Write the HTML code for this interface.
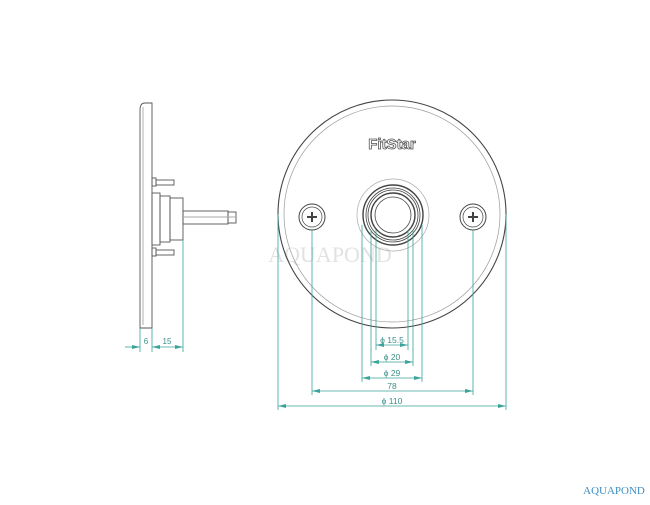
<!DOCTYPE html>
<html><head><meta charset="utf-8"><style>html,body{margin:0;padding:0;background:#fff}svg{display:block}</style></head>
<body>
<svg width="650" height="505" viewBox="0 0 650 505" xmlns="http://www.w3.org/2000/svg" font-family="Liberation Sans, sans-serif">
<defs>
<marker id="a" markerWidth="8" markerHeight="6" refX="8" refY="3" orient="auto-start-reverse" markerUnits="userSpaceOnUse"><path d="M0,1 L8,3 L0,5 z" fill="#3aa39a"/></marker>
</defs>
<rect width="650" height="505" fill="#fff"/>
<text x="330" y="262" font-family="Liberation Serif, serif" font-size="22" fill="#e2e2e2" text-anchor="middle">AQUAPOND</text>
<!-- side view -->
<g fill="none" stroke="#555" stroke-width="0.9">
<path d="M145,103 L152,103 L152,328 L140,328 L140,110 Q140,103 145,103 z"/>
<line x1="143" y1="107" x2="143" y2="325" stroke="#aaa"/>
<rect x="152" y="178" width="4" height="8"/><rect x="156" y="180" width="18" height="5"/>
<rect x="152" y="248" width="4" height="8"/><rect x="156" y="250" width="18" height="5"/>
<rect x="152" y="193" width="8" height="52"/>
<rect x="160" y="196" width="10" height="46"/>
<rect x="170" y="198" width="13" height="42"/>
<rect x="183" y="211" width="45" height="13"/>
<rect x="228" y="212" width="8" height="11"/>
<line x1="183" y1="217" x2="236" y2="217" stroke="#aaa"/>
</g>
<g stroke="#3aa39a" stroke-width="0.8" fill="none">
<line x1="140" y1="328" x2="140" y2="352"/><line x1="152" y1="328" x2="152" y2="352"/><line x1="183" y1="240" x2="183" y2="352"/>
<line x1="125" y1="347" x2="140" y2="347" marker-end="url(#a)"/>
<line x1="152" y1="347" x2="183" y2="347" marker-start="url(#a)" marker-end="url(#a)"/>
</g>
<text x="146" y="344" font-size="8" fill="#3a8f88" text-anchor="middle">6</text>
<text x="167" y="344" font-size="8" fill="#3a8f88" text-anchor="middle">15</text>
<!-- front view -->
<g fill="none" stroke="#444">
<circle cx="392" cy="214" r="114" stroke-width="1.1"/>
<circle cx="392" cy="214" r="108" stroke="#999" stroke-width="0.7"/>
<circle cx="393" cy="215" r="36" stroke="#aaa" stroke-width="0.7"/>
<circle cx="393" cy="215" r="30" stroke-width="1.4"/>
<circle cx="393" cy="215" r="27" stroke-width="0.8"/>
<circle cx="393" cy="215" r="25" stroke-width="0.8"/>
<circle cx="393" cy="215" r="22" stroke-width="1.4"/>
<circle cx="393" cy="215" r="18" stroke-width="0.8"/>
<circle cx="312" cy="217" r="13" stroke-width="1"/><circle cx="312" cy="217" r="10" stroke-width="0.7"/>
<circle cx="473" cy="217" r="13" stroke-width="1"/><circle cx="473" cy="217" r="10" stroke-width="0.7"/>
<path d="M307,217 h10 M312,212 v10 M468,217 h10 M473,212 v10" stroke-width="2"/>
</g>
<text x="392" y="149" font-size="15" font-weight="bold" fill="#fff" stroke="#555" stroke-width="0.8" text-anchor="middle" font-family="Liberation Sans Narrow, Liberation Sans, sans-serif">FitStar</text>
<g stroke="#3aa39a" stroke-width="0.8" fill="none">
<line x1="376" y1="230" x2="376" y2="350"/><line x1="408" y1="230" x2="408" y2="350"/>
<line x1="371" y1="230" x2="371" y2="366"/><line x1="413" y1="230" x2="413" y2="366"/>
<line x1="362" y1="225" x2="362" y2="382"/><line x1="422" y1="225" x2="422" y2="382"/>
<line x1="312" y1="230" x2="312" y2="395"/><line x1="473" y1="230" x2="473" y2="395"/>
<line x1="278" y1="214" x2="278" y2="410"/><line x1="506" y1="214" x2="506" y2="410"/>
<line x1="376" y1="345" x2="408" y2="345" marker-start="url(#a)" marker-end="url(#a)"/>
<line x1="371" y1="362" x2="413" y2="362" marker-start="url(#a)" marker-end="url(#a)"/>
<line x1="362" y1="378" x2="422" y2="378" marker-start="url(#a)" marker-end="url(#a)"/>
<line x1="312" y1="391" x2="473" y2="391" marker-start="url(#a)" marker-end="url(#a)"/>
<line x1="278" y1="406" x2="506" y2="406" marker-start="url(#a)" marker-end="url(#a)"/>
</g>
<g font-size="8.5" fill="#3a8f88" text-anchor="middle">
<text x="392" y="343">ϕ  15.5</text>
<text x="392" y="360">ϕ  20</text>
<text x="392" y="376">ϕ  29</text>
<text x="392" y="389">78</text>
<text x="392" y="404">ϕ  110</text>
</g>
<text x="614" y="494" font-family="Liberation Serif, serif" font-size="11" fill="#3b8fc4" text-anchor="middle">AQUAPOND</text>
</svg>
</body></html>
